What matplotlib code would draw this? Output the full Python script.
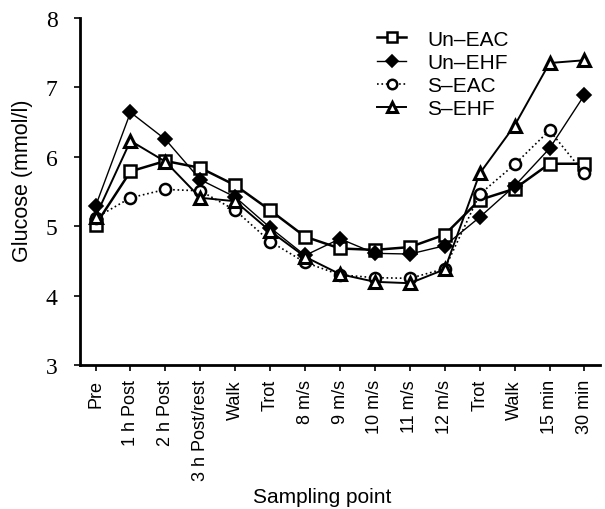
import matplotlib
matplotlib.use("Agg")
import matplotlib.pyplot as plt

categories = ["Pre", "1 h Post", "2 h Post", "3 h Post/rest", "Walk", "Trot",
              "8 m/s", "9 m/s", "10 m/s", "11 m/s", "12 m/s", "Trot", "Walk",
              "15 min", "30 min"]
un_eac = [5.02, 5.79, 5.94, 5.84, 5.59, 5.23, 4.85, 4.68, 4.66, 4.70, 4.88, 5.38, 5.54, 5.90, 5.90]
un_ehf = [5.29, 6.64, 6.25, 5.67, 5.42, 4.98, 4.58, 4.82, 4.61, 4.60, 4.72, 5.13, 5.58, 6.12, 6.89]
s_eac = [5.12, 5.41, 5.53, 5.51, 5.23, 4.78, 4.48, 4.30, 4.26, 4.25, 4.39, 5.46, 5.89, 6.38, 5.76]
s_ehf = [5.14, 6.23, 5.93, 5.41, 5.36, 4.93, 4.56, 4.31, 4.20, 4.18, 4.38, 5.76, 6.45, 7.35, 7.39]

plt.rcParams['font.family'] = ['Liberation Sans', 'DejaVu Sans']

fig = plt.figure(figsize=(6.05, 5.1), dpi=100)
ax = fig.add_axes([0.132, 0.282, 0.86, 0.681])

x = list(range(len(categories)))
ax.plot(x, un_eac, '-', color='black', lw=1.8, marker='s', ms=8,
        mfc='white', mec='black', mew=1.8, label='Un\u2013EAC')
ax.plot(x, un_ehf, '-', color='black', lw=1.0, marker='D', ms=7,
        mfc='black', mec='black', mew=1.2, label='Un\u2013EHF')
ax.plot(x, s_eac, ':', color='black', lw=1.2, marker='o', ms=8,
        mfc='white', mec='black', mew=1.8, label='S\u2013EAC')
ax.plot(x, s_ehf, '-', color='black', lw=1.4, marker='^', ms=8,
        mfc='white', mec='black', mew=2.2, label='S\u2013EHF')

ax.set_xlim(-0.45, 14.45)
ax.set_ylim(3, 8)
ax.set_yticks([3, 4, 5, 6, 7, 8])
ax.set_yticklabels(['3', '4', '5', '6', '7', '8'], fontfamily='Liberation Serif', fontsize=17)
ax.set_xticks(x)
ax.set_xticklabels(categories, rotation=90, fontsize=13)
ax.tick_params(axis='both', direction='out', length=4, width=1.2)
ax.tick_params(axis='x', pad=6)
ax.tick_params(axis='y', pad=12)

for s in ['top', 'right']:
    ax.spines[s].set_visible(False)
for s in ['left', 'bottom']:
    ax.spines[s].set_linewidth(2)

ax.set_ylabel('Glucose (mmol/l)', fontsize=15.5)
ax.yaxis.set_label_coords(-0.09, 0.535)
ax.set_xlabel('Sampling point', fontsize=15)
ax.xaxis.set_label_coords(0.465, -0.35)

leg = ax.legend(loc='upper left', bbox_to_anchor=(0.535, 1.02), frameon=False,
                fontsize=15, handlelength=1.4, labelspacing=0.2, handletextpad=1.0,
                markerscale=0.85)

fig.savefig('out.png', dpi=100)
